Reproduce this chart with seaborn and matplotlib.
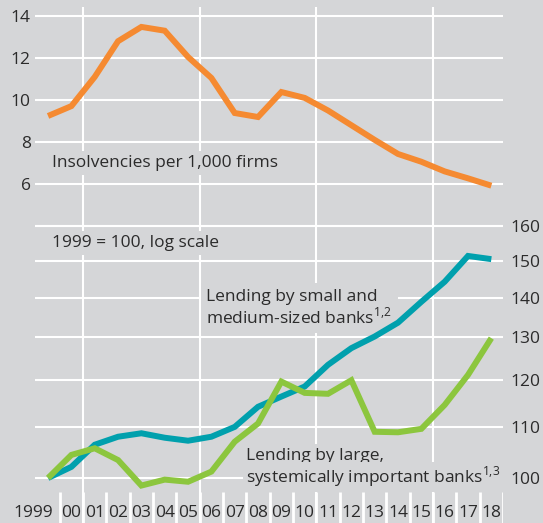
import seaborn as sns
import matplotlib.pyplot as plt
from matplotlib.ticker import NullLocator

# data
years = list(range(1999, 2019))
year_labels = ["1999"] + ["%02d" % (y % 100) for y in years[1:]]

insolvencies = [9.24, 9.71, 11.1, 12.8, 13.48, 13.3, 12.05, 11.05, 9.38, 9.19,
                10.38, 10.1, 9.5, 8.8, 8.1, 7.43, 7.06, 6.6, 6.27, 5.92]
small_banks = [100, 102.1, 106.4, 108.0, 108.7, 107.8, 107.2, 108.0, 110.0, 114.2,
               116.4, 118.6, 123.5, 127.4, 130.2, 133.6, 138.9, 144.2, 151.3, 150.4]
large_banks = [100, 104.4, 105.7, 103.4, 98.6, 99.7, 99.3, 101.2, 107.0, 110.7,
               119.7, 117.2, 117.0, 120.0, 109.0, 108.9, 109.6, 114.6, 121.2, 129.8]

left_ticks = [4, 6, 8, 10, 12, 14]
left_labels = ["", "6", "8", "10", "12", "14"]
right_ticks = [100, 110, 120, 130, 140, 150, 160]
right_labels = [str(v) for v in right_ticks]

BG = "#d5d6d8"
ORANGE = "#f58a31"
TEAL = "#00a0ad"
GREEN = "#8cc63e"
TXT = "#2b2b2b"
FS = 12.5

sns.set_style("white", {"axes.facecolor": BG, "figure.facecolor": BG})
plt.rcParams["font.family"] = ["Open Sans", "DejaVu Sans"]

W, H = 543, 523
# the axes run down to the bottom edge; the year strip sits inside them
fig = plt.figure(figsize=(W / 100, H / 100), dpi=100)
ax1 = fig.add_axes([35 / W, 0, 468 / W, 516 / H])
ax2 = ax1.twinx()

for ax in (ax1, ax2):
    for s in ax.spines.values():
        s.set_visible(False)

line_kw = dict(lw=4.3, solid_joinstyle="miter", solid_capstyle="butt")

# top panel: insolvencies (left, linear)
ax1.set_xlim(1998.44, 2018.5)
ax1.set_ylim(-10.143, 14.4286)
for xv in [2000.5, 2005.5, 2010.5, 2015.5]:
    ax1.axvline(xv, color="white", lw=1.5, zorder=1)
sns.lineplot(x=years, y=insolvencies, ax=ax1, color=ORANGE, zorder=2, **line_kw)
ax1.set_yticks(left_ticks)
ax1.set_yticklabels(left_labels)
ax1.grid(axis="y", color="white", lw=1.5)
ax1.grid(axis="x", visible=False)
ax1.tick_params(axis="y", length=0, pad=3, labelsize=FS, labelcolor=TXT)
ax1.set_xticks([])
ax1.set_xlabel("")
ax1.set_ylabel("")

# year strip: labels centred on the years
xt = ax1.get_xaxis_transform()
for y, lab in zip(years, year_labels):
    if y == years[0]:
        ax1.text(y + 0.215, 0.011, lab, transform=xt, ha="right", va="baseline",
                 fontsize=FS, color=TXT)
    else:
        ax1.text(y, 0.011, lab, transform=xt, ha="center", va="baseline",
                 fontsize=FS, color=TXT)

# bottom panel: lending (right, log scale)
ax2.set_yscale("log")
ax2.set_ylim(91.95, 240.7)
ax2.set_yticks(right_ticks)
ax2.set_yticklabels(right_labels)
ax2.yaxis.set_minor_locator(NullLocator())
ax2.grid(axis="y", color="white", lw=1.5)
ax2.tick_params(axis="y", length=0, pad=5, labelsize=FS, labelcolor=TXT)
sns.lineplot(x=years, y=small_banks, ax=ax2, color=TEAL, zorder=4, **line_kw)
sns.lineplot(x=years, y=large_banks, ax=ax2, color=GREEN, zorder=4, **line_kw)
ax2.set_ylabel("")

# white separators between the year labels, drawn last on the top axes
ax2.vlines([y + 0.5 for y in years], 0, 31 / 516, transform=ax2.get_xaxis_transform(),
           color="white", lw=2.0, zorder=6)

box = dict(facecolor=BG, edgecolor="none", pad=3)
tk = dict(fontsize=FS, color=TXT, ha="left", va="center", zorder=3)
ax2.text(1999.17, 7.0, "Insolvencies per 1,000 firms", transform=ax1.transData,
         bbox=box, **tk)
ax2.text(1999.17, 155.0, "1999 = 100, log scale", bbox=box, **tk)
ax2.text(2005.79, 137.3,
         "Lending by small and\nmedium-sized banks$^{\\mathregular{1{,}2}}$",
         bbox=dict(facecolor=BG, edgecolor="none", pad=4), linespacing=1.1, **tk)
ax2.text(2007.47, 104.2, "Lending by large,", bbox=box, **tk)
ax2.text(2007.47, 100.2, "systemically important banks$^{\\mathregular{1{,}3}}$",
         bbox=dict(facecolor=BG, edgecolor="none", pad=2), **tk)

fig.savefig("out.png", dpi=100, facecolor=BG)
